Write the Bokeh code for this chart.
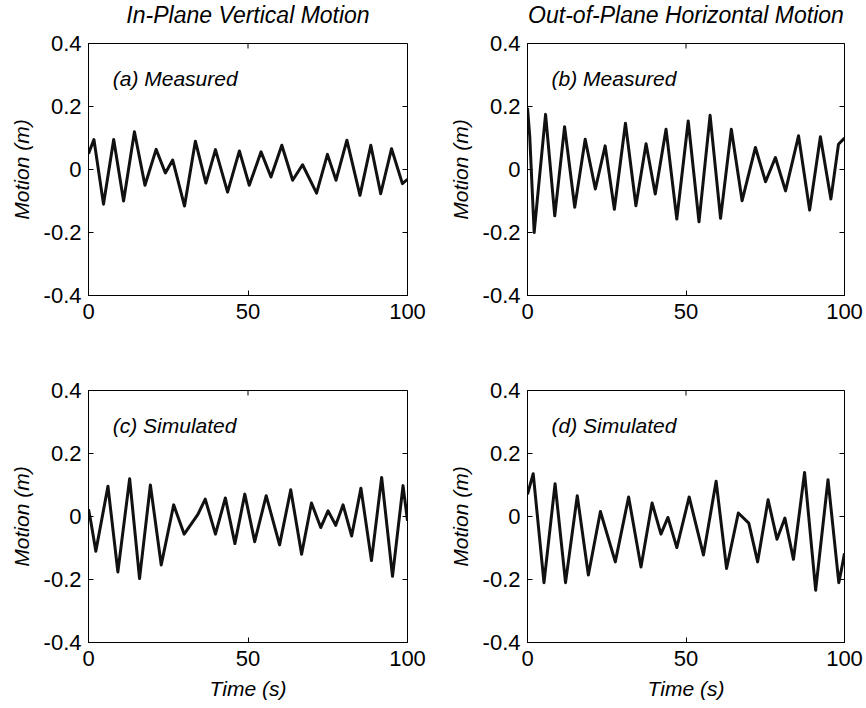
import math
from bokeh.plotting import figure
from bokeh.models import Range1d, LinearAxis, FixedTicker, Label
from bokeh.core.properties import value
from bokeh.layouts import column, row
from bokeh.embed import file_html
from bokeh.resources import INLINE

# ---- data ----
a_t = [0, 1.7, 4.7, 7.9, 11.0, 14.4, 17.7, 21.2, 24.1, 26.4, 30.1, 33.5, 36.8, 39.8, 43.6, 47.3,
       50.4, 54.1, 57.2, 60.6, 64.0, 67.1, 71.5, 74.9, 77.6, 81.0, 85.1, 88.5, 91.6, 95.0, 98.4, 100]
a_v = [0.05, 0.095, -0.11, 0.095, -0.10, 0.12, -0.05, 0.064, -0.011, 0.03, -0.116, 0.09, -0.043, 0.063,
       -0.072, 0.059, -0.05, 0.056, -0.024, 0.077, -0.034, 0.015, -0.075, 0.048, -0.034, 0.093, -0.082,
       0.077, -0.077, 0.066, -0.045, -0.031]

b_t = [0, 0.7, 2.1, 5.7, 8.6, 11.7, 14.9, 18.2, 21.4, 24.5, 27.4, 30.9, 34.2, 37.4, 40.3, 43.7, 47.1,
       50.7, 54.1, 57.6, 60.9, 64.3, 67.7, 71.9, 75.1, 78.2, 81.4, 85.5, 89.0, 92.4, 95.7, 98.1, 100]
b_v = [0.196, 0.107, -0.2, 0.175, -0.147, 0.136, -0.12, 0.096, -0.062, 0.075, -0.126, 0.147, -0.115,
       0.082, -0.078, 0.128, -0.157, 0.154, -0.166, 0.172, -0.155, 0.128, -0.099, 0.07, -0.039, 0.038,
       -0.068, 0.107, -0.129, 0.104, -0.094, 0.08, 0.1]

c_t = [0, 0.7, 2.3, 6.1, 9.2, 12.9, 16.0, 19.4, 22.8, 26.7, 30.0, 34.3, 36.6, 39.8, 42.9, 45.9, 49.0,
       52.1, 55.7, 59.9, 63.4, 66.8, 69.9, 72.8, 75.1, 77.5, 79.8, 82.5, 85.4, 88.7, 91.9, 95.3, 98.6, 100]
c_v = [0.023, -0.014, -0.11, 0.096, -0.176, 0.12, -0.197, 0.1, -0.154, 0.037, -0.056, 0.007, 0.055,
       -0.056, 0.059, -0.086, 0.071, -0.08, 0.066, -0.09, 0.085, -0.12, 0.043, -0.035, 0.018, -0.028,
       0.037, -0.062, 0.09, -0.14, 0.124, -0.19, 0.098, -0.014]

d_t = [0, 1.8, 5.2, 8.7, 12.0, 15.7, 19.2, 23.0, 27.7, 31.9, 35.8, 39.3, 42.1, 44.3, 47.1, 51.0, 55.5,
       59.5, 62.8, 66.5, 69.8, 72.6, 75.9, 78.7, 81.2, 83.9, 87.4, 90.9, 94.8, 98.2, 99.2, 100]
d_v = [0.07, 0.136, -0.21, 0.104, -0.21, 0.066, -0.186, 0.016, -0.144, 0.062, -0.16, 0.043, -0.056,
       -0.003, -0.099, 0.062, -0.122, 0.112, -0.165, 0.011, -0.021, -0.144, 0.053, -0.072, -0.005,
       -0.136, 0.14, -0.234, 0.117, -0.21, -0.16, -0.117]

x_ticks = [0, 50, 100]
x_tick_labels = ["0", "50", "100"]
y_ticks = [-0.4, -0.2, 0, 0.2, 0.4]
y_tick_labels = ["-0.4", "-0.2", "0", "0.2", "0.4"]

col_titles = ["In-Plane Vertical Motion", "Out-of-Plane Horizontal Motion"]
panel_labels = ["(a) Measured", "(b) Measured", "(c) Simulated", "(d) Simulated"]
y_label = "Motion (m)"
x_label = "Time (s)"

FONT = "Liberation Sans"
X_MIN, X_MAX = 0, 100
Y_MIN, Y_MAX = -0.4, 0.4


def title_fig(text, width, height, mb_left, mb_right):
    p = figure(width=width, height=height, x_range=Range1d(X_MIN, X_MAX), y_range=Range1d(0, 1),
               output_backend="svg", toolbar_location=None,
               min_border_left=mb_left, min_border_right=mb_right, min_border_top=0,
               min_border_bottom=0, x_axis_location=None, y_axis_location=None)
    p.outline_line_color = None
    p.xgrid.visible = False
    p.ygrid.visible = False
    p.background_fill_color = "white"
    p.border_fill_color = "white"
    p.text(x=[(X_MIN + X_MAX) / 2], y=[0.5], text=[text], text_font=value(FONT),
           text_font_size="23px", text_font_style="italic", text_align="center",
           text_baseline="middle", text_color="black")
    return p


def make_fig(t, v, label, width, height, mb, xlab=None):
    p = figure(width=width, height=height, x_range=Range1d(X_MIN, X_MAX), y_range=Range1d(Y_MIN, Y_MAX),
               output_backend="svg", toolbar_location=None,
               min_border_left=mb[0], min_border_right=mb[1], min_border_top=mb[2],
               min_border_bottom=mb[3], x_axis_location=None, y_axis_location=None)
    p.background_fill_color = "white"
    p.border_fill_color = "white"
    p.outline_line_color = "black"
    p.outline_line_width = 1
    p.xgrid.visible = False
    p.ygrid.visible = False

    def style(ax):
        ax.axis_line_color = "black"
        ax.major_tick_in = 5
        ax.major_tick_out = 0
        ax.minor_tick_line_color = None
        ax.major_tick_line_color = "black"
        ax.major_label_text_font = FONT
        ax.major_label_text_font_size = "22px"
        ax.major_label_text_color = "black"

    xb = LinearAxis(ticker=FixedTicker(ticks=x_ticks),
                    major_label_overrides={k: s for k, s in zip(x_ticks, x_tick_labels)})
    style(xb)
    xb.major_label_standoff = 8
    if xlab:
        xb.axis_label = xlab
        xb.axis_label_text_font = FONT
        xb.axis_label_text_font_size = "21px"
        xb.axis_label_text_font_style = "italic"
        xb.axis_label_text_color = "black"
        xb.axis_label_standoff = 8
    p.add_layout(xb, "below")

    yl = LinearAxis(ticker=FixedTicker(ticks=y_ticks),
                    major_label_overrides={k: s for k, s in zip(y_ticks, y_tick_labels)})
    style(yl)
    yl.major_label_standoff = 7
    yl.axis_label = y_label
    yl.axis_label_text_font = FONT
    yl.axis_label_text_font_size = "21px"
    yl.axis_label_text_font_style = "italic"
    yl.axis_label_text_color = "black"
    yl.axis_label_standoff = 8
    p.add_layout(yl, "left")

    # inward ticks on the top and right edges (clipped to the frame)
    p.scatter(x=x_ticks, y=[Y_MAX] * len(x_ticks), marker="dash", size=10, angle=math.pi / 2,
              line_color="black", line_width=1)
    p.scatter(x=[X_MAX] * len(y_ticks), y=y_ticks, marker="dash", size=10,
              line_color="black", line_width=1)

    p.line(t, v, line_color="#111111", line_width=3, line_join="round")
    p.add_layout(Label(x=7.6, y=0.29, text=label, text_font=FONT, text_font_size="21px",
                       text_font_style="italic", text_baseline="middle", text_color="black"))
    return p


ta = title_fig(col_titles[0], 427, 29, 88, 20)
tb = title_fig(col_titles[1], 439, 29, 100, 22)
pa = make_fig(a_t, a_v, panel_labels[0], 427, 311, (88, 20, 14, 45))
pb = make_fig(b_t, b_v, panel_labels[1], 439, 311, (100, 22, 14, 45))
pc = make_fig(c_t, c_v, panel_labels[2], 427, 368, (88, 20, 50, 66), xlab=x_label)
pd = make_fig(d_t, d_v, panel_labels[3], 439, 368, (100, 22, 50, 66), xlab=x_label)

layout = column(row(ta, tb, spacing=0), row(pa, pb, spacing=0), row(pc, pd, spacing=0), spacing=0)

open("out.html", "w").write(file_html(layout, INLINE))
